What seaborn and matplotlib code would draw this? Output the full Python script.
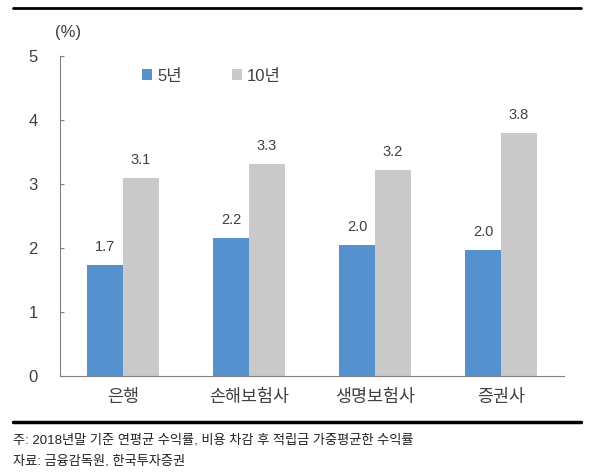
import seaborn as sns
import matplotlib.pyplot as plt
import pandas as pd
from matplotlib.lines import Line2D

categories = ['은행', '손해보험사', '생명보험사', '증권사']
periods = ['5년', '10년']
values_5y = [1.74, 2.16, 2.05, 1.97]
values_10y = [3.09, 3.31, 3.22, 3.80]
y_ticks = [0, 1, 2, 3, 4, 5]

blue = '#5591CE'
gray = '#C9C9C9'
text_color = '#404040'

sns.set_style('white')
plt.rcParams['font.family'] = ['Liberation Sans', 'Noto Sans CJK KR', 'DejaVu Sans']

df = pd.DataFrame({
    'category': categories * 2,
    'period': [periods[0]] * 4 + [periods[1]] * 4,
    'value': values_5y + values_10y,
})

fig = plt.figure(figsize=(6, 4.75), dpi=100)
ax = fig.add_axes([0.1, 0.2084, 0.84, 0.6737])

sns.barplot(data=df, x='category', y='value', hue='period',
            order=categories, hue_order=periods,
            palette=[blue, gray], width=0.572, saturation=1,
            edgecolor='none', ax=ax)

# Value labels above each bar
for container in ax.containers:
    ax.bar_label(container, fmt='%.1f', padding=8, fontsize=10.5,
                 color=text_color)

ax.set_ylim(0, 5)
ax.set_yticks(y_ticks)
ax.set_xlim(-0.5, 3.5)
ax.set_xlabel('')
ax.set_ylabel('')

# Category separators on the x axis
ax.set_xticks([i - 0.5 for i in range(len(categories) + 1)], minor=True)
ax.tick_params(axis='x', which='major', length=0, pad=9,
               labelsize=12.5, labelcolor=text_color)
ax.tick_params(axis='x', which='minor', direction='in', length=4,
               color='#808080', width=0.8)
ax.tick_params(axis='y', direction='in', length=3, color='#808080',
               width=0.8, pad=16, labelsize=12, labelcolor=text_color)
ax.tick_params(left=True, which='major')

for side in ['top', 'right']:
    ax.spines[side].set_visible(False)
for side in ['left', 'bottom']:
    ax.spines[side].set_color('#808080')
    ax.spines[side].set_linewidth(0.8)

handles, labels = ax.get_legend_handles_labels()
ax.legend(handles, labels, ncol=2, frameon=False, loc='center',
          bbox_to_anchor=(0.30, 0.9375), handlelength=0.6,
          handleheight=0.6, handletextpad=0.3, columnspacing=3.0,
          prop={'size': 12}, labelcolor=text_color)

fig.text(0.113, 1 - 32 / 475, '(%)', ha='center', va='center',
         fontsize=12, color=text_color)

# Top and bottom rules of the figure box
fig.add_artist(Line2D([0.022, 0.968], [1 - 8 / 475] * 2,
                      transform=fig.transFigure, color='black', lw=2))
fig.add_artist(Line2D([0.022, 0.968], [1 - 422 / 475] * 2,
                      transform=fig.transFigure, color='black', lw=2.5))

fig.text(0.022, 1 - 440 / 475,
         '주: 2018년말 기준 연평균 수익률, 비용 차감 후 적립금 가중평균한 수익률',
         ha='left', va='center', fontsize=9.5, color='#222222')
fig.text(0.022, 1 - 461 / 475, '자료: 금융감독원, 한국투자증권',
         ha='left', va='center', fontsize=9.5, color='#222222')

fig.savefig('out.png', dpi=100)
